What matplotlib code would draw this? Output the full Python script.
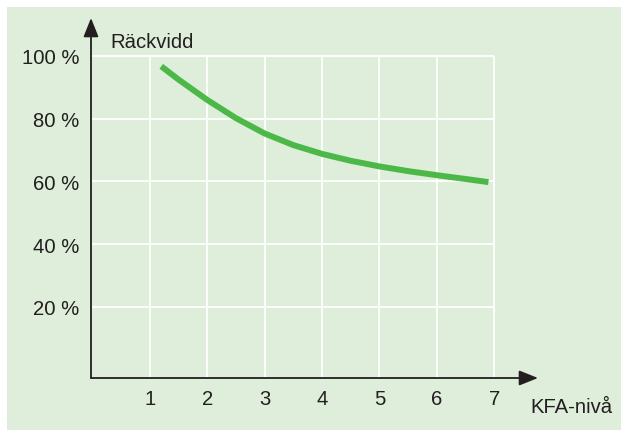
import matplotlib
matplotlib.use("Agg")
import matplotlib.pyplot as plt
from matplotlib.patches import Rectangle, FancyArrowPatch

# Range (Räckvidd) in percent as a function of KFA level
kfa_level = [1.2, 1.5, 2.0, 2.5, 3.0, 3.5, 4.0, 4.5, 5.0, 5.5, 6.0, 6.5, 6.9]
range_pct = [96.7, 92.5, 86.0, 80.2, 75.3, 71.6, 68.8, 66.6, 64.8, 63.3, 62.0, 60.8, 59.8]

x_ticks = [1, 2, 3, 4, 5, 6, 7]
y_ticks = [20, 40, 60, 80, 100]
y_tick_labels = ["20 %", "40 %", "60 %", "80 %", "100 %"]

BG = "#deeedb"
LINE = "#4cb848"
INK = "#231f20"
FS = 14.6

plt.rcParams["font.family"] = ["Liberation Sans", "DejaVu Sans"]

W, H = 621, 431
fig = plt.figure(figsize=(W / 100, H / 100), dpi=100, facecolor="white")
fig.patches.append(Rectangle((7 / W, 0), (W - 7) / W, (H - 8) / H,
                             transform=fig.transFigure, facecolor=BG,
                             edgecolor="none", zorder=-5))

ax = fig.add_axes([91 / W, (H - 379) / H, (538 - 91) / W, (379 - 19) / H])
ax.set_zorder(2)
ax.set_facecolor("none")
ax.set_xlim(-0.024, 7.763)
ax.set_ylim(-2.63, 112.1)
for s in ax.spines.values():
    s.set_visible(False)

# white grid bounded by the data box
ax.hlines(y_ticks, 0, x_ticks[-1], color="white", lw=1.3, zorder=1)
ax.vlines(x_ticks, -2.63, y_ticks[-1], color="white", lw=1.3, zorder=1)

# curve
ax.plot(kfa_level, range_pct, color=LINE, lw=4.3, solid_capstyle="butt",
        solid_joinstyle="round", zorder=3)

# ticks
ax.set_xticks(x_ticks)
ax.set_xticklabels([str(v) for v in x_ticks])
ax.set_yticks(y_ticks)
ax.set_yticklabels(y_tick_labels)
ax.tick_params(length=0, labelsize=FS, colors=INK)
ax.tick_params(axis="x", pad=8)
ax.tick_params(axis="y", pad=8.5)

# axes with arrow heads
style = "-|>,head_length=11.5,head_width=4.6"
ax.add_patch(FancyArrowPatch((0, 0), (1, 0), transform=ax.transAxes,
                             arrowstyle=style, mutation_scale=1, lw=1.3,
                             color=INK, shrinkA=0, shrinkB=0, zorder=4,
                             clip_on=False))
ax.add_patch(FancyArrowPatch((0, 0), (0, 1), transform=ax.transAxes,
                             arrowstyle=style, mutation_scale=1, lw=1.3,
                             color=INK, shrinkA=0, shrinkB=0, zorder=4,
                             clip_on=False))

fig.text(110 / W, (H - 42) / H, "Räckvidd", fontsize=FS, color=INK,
         ha="left", va="center")
fig.text(530 / W, (H - 408) / H, "KFA-nivå", fontsize=FS, color=INK,
         ha="left", va="center")

fig.savefig("out.png", dpi=100, facecolor="white")
